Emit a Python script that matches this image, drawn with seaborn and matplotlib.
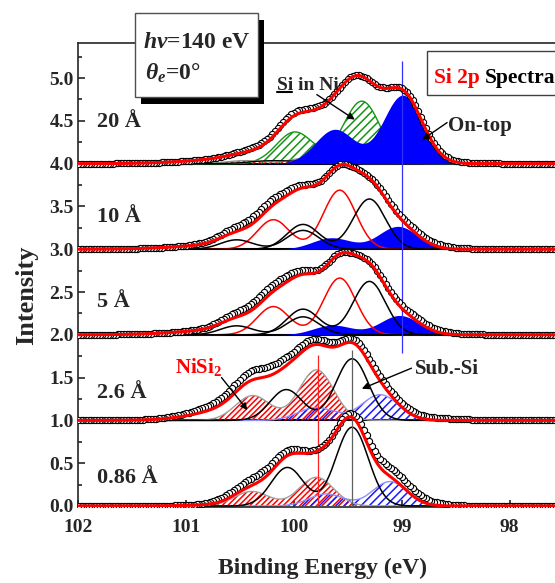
import numpy as np
import matplotlib
matplotlib.use('Agg')
import matplotlib.pyplot as plt
import seaborn as sns
from matplotlib.patches import Rectangle
from matplotlib.lines import Line2D
from matplotlib.ticker import MultipleLocator, FormatStrFormatter

# ==========================================
# Si 2p spectra, Ni on Si, hv = 140 eV
# ==========================================
thickness = ['20 Å', '10 Å', '5 Å', '2.6 Å', '0.86 Å']
offsets = [4.0, 3.0, 2.0, 1.0, 0.0]
label_heights = [4.43, 3.32, 2.33, 1.26, 0.27]

# components: (2p3/2 & 2p1/2 centres [eV], heights, gaussian sigma [eV])
# --- 20 A
ontop_20 = ([98.99, 99.62], [0.80, 0.40], 0.18)
si_in_ni_20 = ([99.37, 99.99], [0.73, 0.37], 0.17)
nisi2_20 = ([99.85, 100.45], [0.07, 0.035], 0.17)
sub_si_20 = ([99.60, 100.20], [0.07, 0.035], 0.20)
bg_20 = ([100.3], [0.08], 0.5)
extra_20 = ([100.1, 98.75], [0.04, 0.02], 0.3)
# --- 10 A
ontop_10 = ([99.035, 99.65], [0.267, 0.134], 0.18)
red_10 = ([99.575, 100.19], [0.69, 0.345], 0.15)
black_a_10 = ([99.30, 99.915], [0.587, 0.29], 0.15)
black_b_10 = ([99.915, 100.53], [0.22, 0.11], 0.15)
bg_10 = ([100.4], [0.075], 0.5)
extra_10 = ([100.3, 98.9], [0.08, 0.04], 0.3)
# --- 5 A
ontop_5 = ([99.02, 99.64], [0.226, 0.113], 0.18)
red_5 = ([99.575, 100.19], [0.663, 0.33], 0.15)
black_a_5 = ([99.30, 99.915], [0.624, 0.30], 0.15)
black_b_5 = ([99.915, 100.53], [0.21, 0.105], 0.15)
bg_5 = ([100.4], [0.08], 0.5)
extra_5 = ([100.25, 98.9], [0.09, 0.04], 0.3)
# --- 2.6 A
nisi2_26 = ([99.79, 100.38], [0.59, 0.29], 0.16)
sub_si_26 = ([99.46, 100.07], [0.72, 0.36], 0.15)
blue_26 = ([99.20, 99.79], [0.30, 0.15], 0.17)
bg_26 = ([100.5], [0.15], 0.35)
extra_26 = ([100.3, 99.1], [0.11, 0.05], 0.42)
# --- 0.86 A
nisi2_086 = ([99.79, 100.39], [0.335, 0.17], 0.16)
sub_si_086 = ([99.46, 100.06], [0.92, 0.45], 0.15)
blue_086 = ([99.11, 99.70], [0.285, 0.14], 0.16)
bg_086 = ([100.3], [0.03], 0.4)
extra_086 = ([100.3, 99.1], [0.09, 0.11], 0.28)

# reference lines: energy, y from, y to
ref_energy = [99.0, 99.78, 99.46]
ref_ymin = [1.79, 0.0, 0.0]
ref_ymax = [5.2, 1.77, 1.82]
ref_colors = ['#3030ff', '#ff2020', '#606060']

E_LINE = np.arange(97.5, 102.05, 0.005)
E_DOTS = np.arange(97.55, 102.0, 0.025)


def doublet(e, comp):
    centres, heights, sigma = comp
    out = np.zeros_like(e)
    for c, h in zip(centres, heights):
        out += h * np.exp(-(e - c) ** 2 / (2 * sigma ** 2))
    return out


sns.set_style('ticks')
plt.rcParams.update({
    'font.family': ['Liberation Serif', 'DejaVu Serif'],
    'font.weight': 'bold',
    'mathtext.fontset': 'custom',
    'mathtext.rm': 'Liberation Serif:bold',
    'mathtext.it': 'Liberation Serif:italic:bold',
    'mathtext.bf': 'Liberation Serif:bold',
    'hatch.linewidth': 1.1,
    'axes.linewidth': 1.2,
})

W, H = 555, 583
fig = plt.figure(figsize=(W / 100, H / 100), dpi=100)
ax = fig.add_axes([78 / W, (H - 507) / H, 1 - 78 / W, (507 - 43) / H])
ax.set_xlim(102, 97.58)
ax.set_ylim(-0.012, 5.41)


def line(comp, off, color, lw=1.1, z=3):
    sns.lineplot(x=E_LINE, y=off + doublet(E_LINE, comp), ax=ax, color=color,
                 lw=lw, zorder=z, sort=False, estimator=None, legend=False)


def solid(comp, off, color, z=2):
    ax.fill_between(E_LINE, off, off + doublet(E_LINE, comp), color=color, lw=0, zorder=z)


def hatched(comp, off, color, hatch, edge, z=2):
    y = off + doublet(E_LINE, comp)
    ax.fill_between(E_LINE, off, y, facecolor='none', edgecolor=color, hatch=hatch, lw=0, zorder=z)
    ax.plot(E_LINE, y, color=edge, lw=1.0, zorder=z + 0.1)


def spectrum(comps, bg, extra, off):
    fit = doublet(E_LINE, bg) + sum(doublet(E_LINE, c) for c in comps)
    data = doublet(E_DOTS, bg) + doublet(E_DOTS, extra) + sum(doublet(E_DOTS, c) for c in comps)
    sns.scatterplot(x=E_DOTS, y=off + data, ax=ax, marker='o', s=20, color='white',
                    edgecolor='black', linewidth=0.8, zorder=4, legend=False)
    sns.lineplot(x=E_LINE, y=off + fit, ax=ax, color='#ff0000', lw=2.2, zorder=5,
                 sort=False, estimator=None, legend=False)


for y in offsets[:-1]:
    ax.axhline(y, color='black', lw=1.5, zorder=1.5)

# 20 A
off = offsets[0]
hatched(si_in_ni_20, off, '#149614', '////', '#149614')
hatched(nisi2_20, off, '#ff0000', '//////', '#909090')
line(sub_si_20, off, 'black', lw=0.9)
solid(ontop_20, off, '#0000ff', z=3)
spectrum([ontop_20, si_in_ni_20, nisi2_20, sub_si_20], bg_20, extra_20, off)

# 10 A and 5 A
for off, ontop, red, ba, bb, bg, extra in [
        (offsets[1], ontop_10, red_10, black_a_10, black_b_10, bg_10, extra_10),
        (offsets[2], ontop_5, red_5, black_a_5, black_b_5, bg_5, extra_5)]:
    solid(ontop, off, '#0000ff')
    line(red, off, '#ff0000')
    line(ba, off, 'black')
    line(bb, off, 'black')
    spectrum([ontop, red, ba, bb], bg, extra, off)

# 2.6 A and 0.86 A
for off, nisi2, subsi, blue, bg, extra in [
        (offsets[3], nisi2_26, sub_si_26, blue_26, bg_26, extra_26),
        (offsets[4], nisi2_086, sub_si_086, blue_086, bg_086, extra_086)]:
    hatched(nisi2, off, '#ff0000', '//////', '#a0a0a0')
    hatched(blue, off, '#1a1aff', '////', '#9090ff')
    line(subsi, off, 'black')
    spectrum([nisi2, subsi, blue], bg, extra, off)

ax.vlines(ref_energy, ref_ymin, ref_ymax, colors=ref_colors, lw=0.9, zorder=3.5)

# thickness labels
for lab, yb in zip(thickness, label_heights):
    ax.text(101.82, yb, lab, fontsize=16, fontweight='bold', va='baseline', ha='left', zorder=6)

# annotations
arrow = dict(arrowstyle='-|>', color='black', lw=1.0, mutation_scale=10, shrinkA=0, shrinkB=0)
ax.text(100.157, 4.865, 'Si in Ni', fontsize=14, va='baseline', ha='left', zorder=6)
ax.annotate('', xy=(99.435, 4.515), xytext=(99.787, 4.807), arrowprops=arrow, zorder=6)
ax.text(98.574, 4.386, 'On-top', fontsize=15, va='baseline', ha='left', zorder=6)
ax.annotate('', xy=(98.81, 4.28), xytext=(98.58, 4.48), arrowprops=arrow, zorder=6)
ax.text(98.88, 1.544, 'Sub.-Si', fontsize=15, va='baseline', ha='left', zorder=6)
ax.annotate('', xy=(99.37, 1.37), xytext=(98.91, 1.61), arrowprops=arrow, zorder=6)
ax.text(101.10, 1.556, r'NiSi$_2$', fontsize=15, color='#ff0000', va='baseline', ha='left', zorder=6)
ax.annotate('', xy=(100.43, 1.12), xytext=(100.67, 1.50), arrowprops=arrow, zorder=6)

# axes styling
ax.spines['right'].set_visible(False)
ax.xaxis.set_major_locator(MultipleLocator(1))
ax.xaxis.set_major_formatter(FormatStrFormatter('%d'))
ax.yaxis.set_major_locator(MultipleLocator(0.5))
ax.yaxis.set_minor_locator(MultipleLocator(0.25))
ax.yaxis.set_major_formatter(FormatStrFormatter('%.1f'))
ax.tick_params(which='both', direction='in', labelsize=14, width=1.2, pad=3)
ax.tick_params(axis='x', pad=9)
ax.tick_params(which='major', length=5)
ax.tick_params(which='minor', length=3)
for t in ax.get_xticklabels() + ax.get_yticklabels():
    t.set_fontweight('bold')

fig.text(323 / W, 1 - 568 / H, 'Binding Energy (eV)', fontsize=17, ha='center', va='center')
fig.text(27 / W, 1 - 295 / H, 'Intensity', fontsize=19, rotation=90, ha='center', va='center')


def fx(px):
    return px / W


def fy(py):
    return 1 - py / H


# hv / theta box with drop shadow
fig.add_artist(Rectangle((fx(141), fy(104)), (258 - 135) / W, (97 - 13) / H,
                         transform=fig.transFigure, facecolor='black', edgecolor='none', zorder=2))
fig.add_artist(Rectangle((fx(135), fy(97)), (258 - 135) / W, (97 - 13) / H,
                         transform=fig.transFigure, facecolor='white', edgecolor='#505050', lw=1.0, zorder=3))
fig.text(fx(143), fy(48), r'$h\nu$=140 eV', fontsize=17, va='baseline', ha='left', zorder=4)
fig.text(fx(145), fy(80), r'$\theta_e$=0°', fontsize=17, va='baseline', ha='left', zorder=4)

# Si 2p Spectra box
fig.add_artist(Rectangle((fx(427), fy(95)), 200 / W, (95 - 51) / H,
                         transform=fig.transFigure, facecolor='white', edgecolor='#404040', lw=1.0, zorder=3))
fig.text(fx(434), fy(83), 'Si 2p', fontsize=15.5, color='#ff0000', va='baseline', ha='left', zorder=4)
fig.text(fx(485), fy(83), 'Spectra', fontsize=15.5, color='black', va='baseline', ha='left', zorder=4)

# underline under "Si"
fig.add_artist(Line2D([fx(277), fx(292)], [fy(92), fy(92)], transform=fig.transFigure,
                      color='black', lw=1.5, zorder=6))

fig.savefig('out.png', dpi=100)
